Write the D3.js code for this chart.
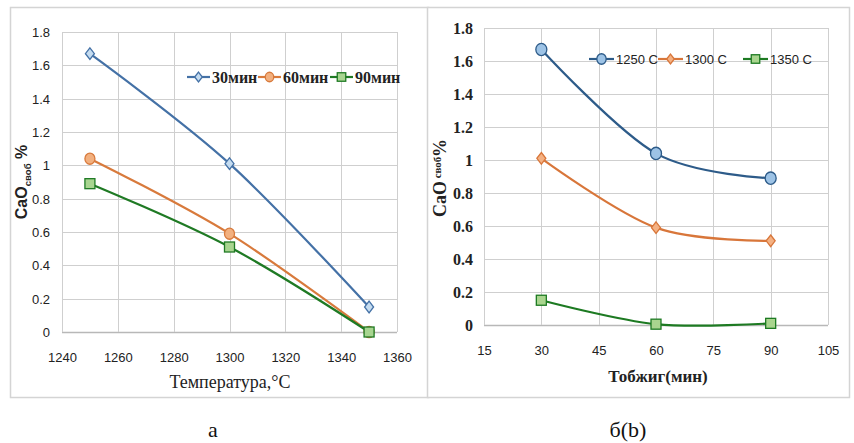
<!DOCTYPE html>
<html><head><meta charset="utf-8">
<script src="https://cdn.jsdelivr.net/npm/d3@7"></script>
<style>body{margin:0;background:#fff}svg{display:block}</style>
</head><body>
<svg id="c" width="854" height="443"></svg>
<script>
// ---- Data ----
const tempsA = [1250, 1300, 1350];
const seriesNamesA = ["30мин", "60мин", "90мин"];
const a30 = [1.67, 1.01, 0.15];
const a60 = [1.04, 0.59, 0.0];
const a90 = [0.89, 0.51, 0.0];
const xTicksA = [1240, 1260, 1280, 1300, 1320, 1340, 1360];
const yTicks = [0, 0.2, 0.4, 0.6, 0.8, 1, 1.2, 1.4, 1.6, 1.8];

const timesB = [30, 60, 90];
const seriesNamesB = ["1250 C", "1300 C", "1350 C"];
const b1250 = [1.67, 1.04, 0.89];
const b1300 = [1.01, 0.59, 0.51];
const b1350 = [0.15, 0.005, 0.01];
const xTicksB = [15, 30, 45, 60, 75, 90, 105];

const svg = d3.select("#c");
const curve = d3.curveCardinal.tension(0);

function marker(g, type, x, y, size, fill, stroke) {
  if (type === "diamond") {
    const w = size / 2, h = size * 0.65;
    g.append("path").attr("d", `M${x},${y-h}L${x+w},${y}L${x},${y+h}L${x-w},${y}Z`)
      .attr("fill", fill).attr("stroke", stroke).attr("stroke-width", 1.3);
  } else if (type === "circle") {
    g.append("ellipse").attr("cx", x).attr("cy", y).attr("rx", size / 2).attr("ry", size * 0.56)
      .attr("fill", fill).attr("stroke", stroke).attr("stroke-width", 1.3);
  } else {
    const s = size;
    g.append("rect").attr("x", x - s/2).attr("y", y - s/2).attr("width", s).attr("height", s)
      .attr("fill", fill).attr("stroke", stroke).attr("stroke-width", 1.3);
  }
}

function panel(cfg) {
  const g = svg.append("g");
  g.append("rect").attr("x", cfg.frame[0] + 0.5).attr("y", cfg.frame[1] + 0.5)
    .attr("width", cfg.frame[2]).attr("height", cfg.frame[3])
    .attr("fill", "#fff").attr("stroke", "#d4d4d4").attr("stroke-width", 1.5);
  const x = d3.scaleLinear().domain(cfg.xDomain).range([cfg.left, cfg.right]);
  const y = d3.scaleLinear().domain([0, 1.8]).range([cfg.bottom, cfg.top]);
  // grid
  g.append("g").selectAll("line").data(yTicks).join("line")
    .attr("x1", cfg.left).attr("x2", cfg.right)
    .attr("y1", d => Math.round(y(d)) + 0.5).attr("y2", d => Math.round(y(d)) + 0.5)
    .attr("stroke", d => d === 0 ? "#b8b8b8" : "#cfcfcf").attr("stroke-width", d => d === 0 ? 1.5 : 1);
  g.append("g").selectAll("line").data(cfg.xTicks).join("line")
    .attr("y1", cfg.top).attr("y2", cfg.bottom)
    .attr("x1", d => Math.round(x(d)) + 0.5).attr("x2", d => Math.round(x(d)) + 0.5)
    .attr("stroke", "#cfcfcf");
  // axes labels
  const ya = g.append("g").attr("transform", `translate(${cfg.left - cfg.yPad},0)`)
    .call(d3.axisLeft(y).tickValues(yTicks).tickSize(0).tickPadding(0).tickFormat(d => String(+d.toFixed(1))));
  ya.select(".domain").remove();
  ya.selectAll("text").attr("font-family", cfg.yFont).attr("font-size", cfg.yFontSize)
    .attr("font-weight", cfg.yWeight).attr("fill", "#222").attr("dy", "0.35em");
  const xa = g.append("g").attr("transform", `translate(0,${cfg.xTickY})`)
    .call(d3.axisBottom(x).tickValues(cfg.xTicks).tickSize(0).tickPadding(0).tickFormat(d3.format("d")));
  xa.select(".domain").remove();
  xa.selectAll("text").attr("font-family", cfg.xFont).attr("font-size", cfg.xFontSize)
    .attr("font-weight", cfg.xWeight).attr("fill", "#222").attr("dy", "0.35em");
  // series
  const line = d3.line().x(d => x(d[0])).y(d => y(d[1])).curve(curve);
  cfg.series.forEach(s => {
    const pts = cfg.xs.map((v, i) => [v, s.values[i]]);
    g.append("path").attr("d", line(pts)).attr("fill", "none")
      .attr("stroke", s.color).attr("stroke-width", 2.2);
  });
  cfg.series.forEach(s => {
    cfg.xs.forEach((v, i) => marker(g, s.marker, x(v), y(s.values[i]), s.size, s.fill, s.color));
  });
  // legend
  cfg.series.forEach((s, i) => {
    const lx = cfg.legendX[i], ly = cfg.legendY;
    g.append("line").attr("x1", lx).attr("x2", lx + cfg.legendLine).attr("y1", ly).attr("y2", ly)
      .attr("stroke", s.color).attr("stroke-width", 2.2);
    marker(g, s.marker, lx + cfg.legendLine / 2, ly, s.size * 0.85, s.legendFill || s.fill, s.color);
    g.append("text").attr("x", lx + cfg.legendLine + 2).attr("y", ly).attr("dy", "0.35em")
      .attr("font-family", cfg.legFont).attr("font-size", cfg.legFontSize).attr("font-weight", cfg.legWeight)
      .attr("fill", "#222").text(s.name);
  });
  // x title
  g.append("text").attr("x", cfg.xTitle[0]).attr("y", cfg.xTitle[1]).attr("text-anchor", "middle")
    .attr("font-family", "Liberation Serif").attr("font-size", cfg.xTitleSize).attr("font-weight", cfg.xTitleWeight)
    .attr("fill", "#222").text(cfg.xTitleText);
  // y title
  const yt = g.append("text").attr("transform", `translate(${cfg.yTitle[0]},${cfg.yTitle[1]}) rotate(-90)`)
    .attr("text-anchor", "middle").attr("font-family", cfg.yTitleFont).attr("font-weight", "bold")
    .attr("font-size", cfg.yTitleSize).attr("fill", "#222");
  yt.append("tspan").text("CaO");
  yt.append("tspan").attr("font-size", cfg.yTitleSize * 0.6).attr("dy", cfg.subDy).text(cfg.subGap + "своб");
  yt.append("tspan").attr("dy", -cfg.subDy).text(cfg.pctGap + "%");
  // caption
  svg.append("text").attr("x", cfg.caption[0]).attr("y", cfg.caption[1]).attr("text-anchor", "middle")
    .attr("font-family", "Liberation Serif").attr("font-size", 22).attr("fill", "#111").text(cfg.captionText);
}

panel({
  frame: [10, 7, 418, 390],
  xDomain: [1240, 1360], left: 62, right: 397, top: 32, bottom: 332,
  xTicks: xTicksA, xs: tempsA, xTickY: 357, yPad: 12,
  yFont: "Liberation Sans", yFontSize: 13, yWeight: "normal",
  xFont: "Liberation Sans", xFontSize: 13, xWeight: "normal",
  series: [
    {name: seriesNamesA[0], values: a30, color: "#4471a6", marker: "diamond", size: 9, fill: "#c5dcf0"},
    {name: seriesNamesA[1], values: a60, color: "#d87a3c", marker: "circle", size: 10, fill: "#f2b07f"},
    {name: seriesNamesA[2], values: a90, color: "#1f7a24", marker: "square", size: 10, fill: "#a8d590"}
  ],
  legendX: [187, 258, 330], legendY: 77, legendLine: 23,
  legFont: "Liberation Serif", legFontSize: 16, legWeight: "bold",
  xTitle: [230, 388], xTitleText: "Температура,°C", xTitleSize: 18, xTitleWeight: "normal",
  yTitle: [27, 182], yTitleFont: "Liberation Sans", yTitleSize: 16, subDy: 4, subGap: "", pctGap: " ",
  caption: [213, 437], captionText: "а"
});

panel({
  frame: [427, 7, 422, 390],
  xDomain: [15, 105], left: 484, right: 828, top: 28, bottom: 325,
  xTicks: xTicksB, xs: timesB, xTickY: 350, yPad: 11,
  yFont: "Liberation Serif", yFontSize: 16, yWeight: "bold",
  xFont: "Liberation Sans", xFontSize: 13, xWeight: "normal",
  series: [
    {name: seriesNamesB[0], values: b1250, color: "#2d5b89", marker: "circle", size: 11, fill: "#9dc3e6"},
    {name: seriesNamesB[1], values: b1300, color: "#d8763a", marker: "diamond", size: 9, fill: "#f4b183"},
    {name: seriesNamesB[2], values: b1350, color: "#1d7a22", marker: "square", size: 10, fill: "#a9d58e"}
  ],
  legendX: [589, 658, 743], legendY: 59, legendLine: 25,
  legFont: "Liberation Sans", legFontSize: 13, legWeight: "normal",
  xTitle: [658, 382], xTitleText: "Тобжиг(мин)", xTitleSize: 17, xTitleWeight: "bold",
  yTitle: [446, 178], yTitleFont: "Liberation Serif", yTitleSize: 18, subDy: -5, subGap: " ", pctGap: "",
  caption: [628, 437], captionText: "б(b)"
});
</script>
</body></html>
